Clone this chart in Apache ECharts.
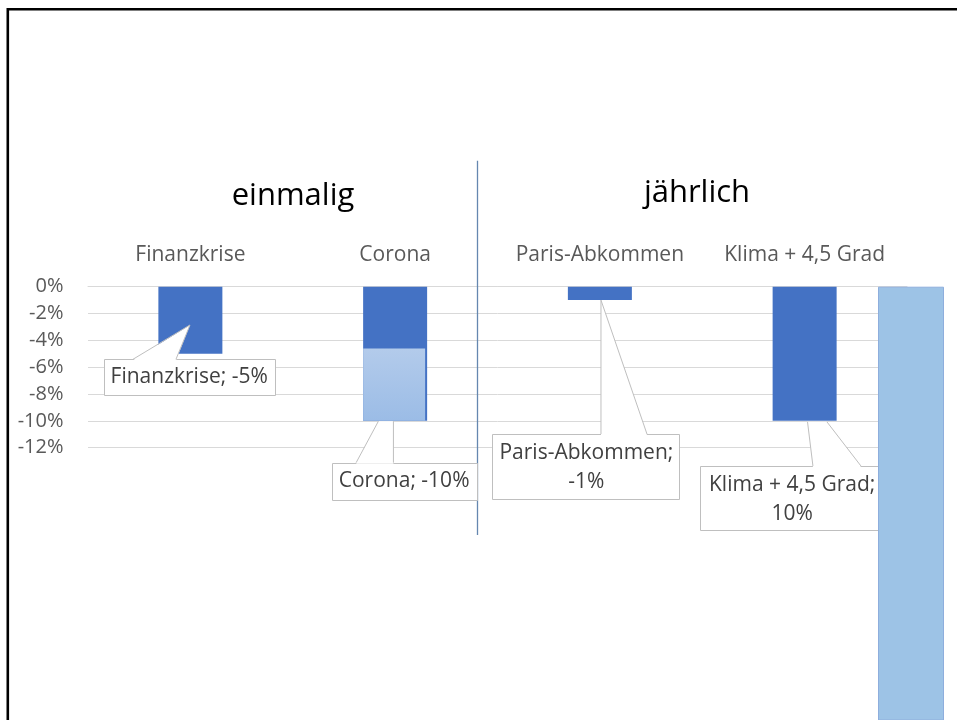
<!DOCTYPE html>
<html><head><meta charset="utf-8">
<script src="https://cdn.jsdelivr.net/npm/echarts@6/dist/echarts.min.js"></script>
<style>html,body{margin:0;padding:0;background:#fff}#c{width:957px;height:720px}</style>
</head><body><div id="c"></div>
<script>
// ---- data ----
const categories = ['Finanzkrise', 'Corona', 'Paris-Abkommen', 'Klima + 4,5 Grad'];
const values = [-5, -10, -1, -10];
const coronaIndex = 1;
const coronaLightStart = -4.6;      // lighter part of the Corona bar starts here
const extraBarValue = -40;          // light bar right of "Klima", runs off the picture
const labelTexts = ['Finanzkrise; -5%', 'Corona; -10%', 'Paris-Abkommen;\n-1%', 'Klima + 4,5 Grad;\n10%'];
const yTicks = [0, -2, -4, -6, -8, -10, -12];
const groupTitles = ['einmalig', 'jährlich'];

// ---- styling / layout ----
const FONT = '"Open Sans", "Noto Sans", sans-serif';
const gridTop = 286.7, gridBottom = 720 - 447.7;
const pxPerUnit = (447.7 - 286.7) / 12;

// callout shapes relative to bar end point (style, not data)
const callouts = [
  {box: [-86.4, 5.5, 171, 35.7], wedge: [[-57.4, 5.5], [-0.4, -28.8], [-14.4, 5.5]], text: [-1.2, 23.5]},
  {box: [-63.3, 41.8, 145.3, 36.6], wedge: [[-39, 41.8], [-16.7, 0.3], [-1.7, 0.3], [-1.7, 41.8]], text: [9, 60.3]},
  {box: [-107.6, 133.9, 187, 65.3], wedge: [[1.1, 133.9], [1.1, 0], [47.1, 133.9]], text: [-13.5, 167.5]},
  {box: [-105.1, 45.1, 195.7, 64], wedge: [[8.3, 45.1], [2.9, 1], [22.3, 1], [56.3, 45.1]], text: [-12.5, 78.5]}
];

const calloutData = values.map((v, i) => [i, v]);
const lightBase = categories.map((c, i) => i === coronaIndex ? coronaLightStart : null);
const lightPart = categories.map((c, i) => i === coronaIndex ? values[i] - coronaLightStart : null);

const yMin = Math.min(...yTicks), yMax = Math.max(...yTicks);

const chart = echarts.init(document.getElementById('c'), null, {renderer: 'canvas'});
chart.setOption({
  animation: false,
  backgroundColor: '#fff',
  grid: [
    {left: 88, right: 50, top: gridTop, bottom: gridBottom},
    {left: 877.5, width: 67, top: gridTop, bottom: 0}
  ],
  xAxis: [
    {
      type: 'category', gridIndex: 0, position: 'top', data: categories,
      axisLine: {lineStyle: {color: '#d9d9d9', width: 1}},
      axisTick: {inside: true, length: 6, lineStyle: {color: '#d9d9d9'}},
      axisLabel: {interval: 0, color: '#595959', fontSize: 21, fontFamily: FONT, margin: 21}
    },
    {type: 'category', gridIndex: 1, data: [''], show: false}
  ],
  yAxis: [
    {
      type: 'value', gridIndex: 0, min: yMin, max: yMax, interval: 2,
      axisLine: {show: false}, axisTick: {show: false},
      axisLabel: {formatter: '{value}%', color: '#595959', fontSize: 20, fontFamily: FONT, margin: 24.5},
      splitLine: {lineStyle: {color: '#d9d9d9', width: 1}}
    },
    {
      type: 'value', gridIndex: 1, max: 0, min: -(720 - gridTop) / pxPerUnit, show: false
    }
  ],
  series: [
    {
      type: 'bar', xAxisIndex: 0, yAxisIndex: 0, stack: 'light', data: lightBase, barWidth: 62, barGap: '-100%',
      itemStyle: {color: 'rgba(0,0,0,0)'}, z: 3, silent: true
    },
    {
      type: 'bar', xAxisIndex: 0, yAxisIndex: 0, stack: 'light', data: lightPart, barWidth: 62,
      itemStyle: {
        color: new echarts.graphic.LinearGradient(0, 0, 0, 1, [
          {offset: 0, color: '#b3cbeb'}, {offset: 1, color: '#9bbce6'}
        ])
      }, z: 3
    },
    {
      type: 'bar', xAxisIndex: 0, yAxisIndex: 0, data: values, barWidth: 64,
      itemStyle: {color: '#4472C4'}, z: 2
    },
    {
      type: 'custom', xAxisIndex: 0, yAxisIndex: 0, data: calloutData, z: 5, clip: false,
      encode: {x: 0, y: 1},
      renderItem: function (params, api) {
        const i = params.dataIndex;
        const p = api.coord([api.value(0), api.value(1)]);
        const c = callouts[i];
        const pts = c.wedge.map(q => [p[0] + q[0], p[1] + q[1]]);
        const n = pts.length;
        const fillPts = pts.map((q, k) => (k === 0 || k === n - 1) ? [q[0], q[1] + 1] : q);
        return {
          type: 'group',
          children: [
            {type: 'rect', shape: {x: Math.round(p[0] + c.box[0]) + 0.5, y: Math.round(p[1] + c.box[1]) + 0.5, width: Math.round(c.box[2]), height: Math.round(c.box[3])},
             style: {fill: '#fff', stroke: '#bfbfbf', lineWidth: 1}},
            {type: 'polygon', shape: {points: fillPts}, style: {fill: '#fff', stroke: null}},
            {type: 'polyline', shape: {points: [pts[0], pts[1]]}, style: {stroke: '#bfbfbf', lineWidth: 1, fill: null}},
            {type: 'polyline', shape: {points: [pts[n - 2], pts[n - 1]]}, style: {stroke: '#bfbfbf', lineWidth: 1, fill: null}},
            {type: 'text', style: {text: labelTexts[i], x: p[0] + c.text[0], y: p[1] + c.text[1], align: 'center', verticalAlign: 'middle',
              font: '21px ' + FONT, fill: '#404040', lineHeight: 29}}
          ]
        };
      }
    },
    {
      type: 'bar', xAxisIndex: 1, yAxisIndex: 1, data: [extraBarValue], barWidth: 66,
      itemStyle: {color: '#9DC3E6', borderColor: '#8eaedd', borderWidth: 1}, z: 10
    }
  ],
  graphic: [
    {type: 'rect', shape: {x: 7.8, y: 9.3, width: 1200, height: 1000}, style: {fill: null, stroke: '#000', lineWidth: 2.6}, z: 100},
    {type: 'line', shape: {x1: 477.5, y1: 160.7, x2: 477.5, y2: 535}, style: {stroke: '#6587b0', lineWidth: 1.3}, z: 1},
    {type: 'text', style: {text: groupTitles[0], x: 293, y: 196, align: 'center', verticalAlign: 'middle', font: '31px ' + FONT, fill: '#000'}},
    {type: 'text', style: {text: groupTitles[1], x: 697, y: 193, align: 'center', verticalAlign: 'middle', font: '31px ' + FONT, fill: '#000'}}
  ]
});
</script></body></html>
